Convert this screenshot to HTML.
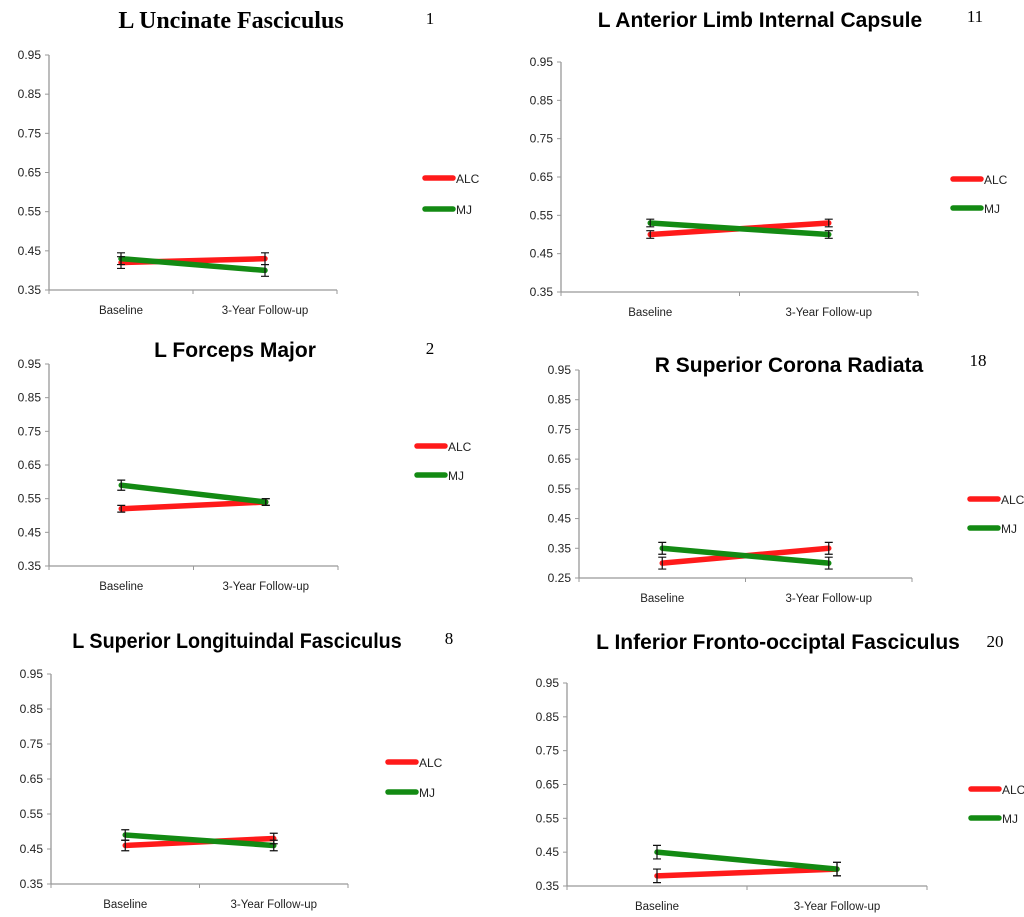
<!DOCTYPE html>
<html><head><meta charset="utf-8">
<style>
html,body{margin:0;padding:0;background:#fff;width:1024px;height:917px;overflow:hidden}
svg{display:block}
text{font-family:"Liberation Sans",sans-serif}
</style></head>
<body>
<svg id="chart" width="1024" height="917"></svg>
<script>
const categories = ["Baseline", "3-Year Follow-up"];
const titles = ["L Uncinate Fasciculus","L Anterior Limb Internal Capsule","L Forceps Major","R Superior Corona Radiata","L Superior Longituindal Fasciculus","L Inferior Fronto-occiptal Fasciculus"];
const panelNumbers = ["1","11","2","18","8","20"];
const alcValues = [[0.42,0.43],[0.50,0.53],[0.52,0.54],[0.30,0.35],[0.46,0.48],[0.38,0.40]];
const mjValues = [[0.43,0.40],[0.53,0.50],[0.59,0.54],[0.35,0.30],[0.49,0.46],[0.45,0.40]];
const alcErr = [[0.015,0.015],[0.01,0.01],[0.01,0.01],[0.02,0.02],[0.015,0.015],[0.02,0.02]];
const mjErr = [[0.015,0.015],[0.01,0.01],[0.015,0.01],[0.02,0.02],[0.015,0.015],[0.02,0.02]];
const yMins = [0.35,0.35,0.35,0.25,0.35,0.35];
const yMax = 0.95;
const yStep = 0.1;

const layout = [
 {ax:49,ax1:337,yt:55,yb:290,tx:231,ty:28,fs:24,serif:true,nx:430,ny:24,lx:423,ly:[178,209]},
 {ax:561,ax1:918,yt:62,yb:292,tx:760,ty:27,fs:21,serif:false,nx:975,ny:22,lx:951,ly:[179,208]},
 {ax:49,ax1:338,yt:364,yb:566,tx:235,ty:357,fs:21,serif:false,nx:430,ny:354,lx:415,ly:[446,475]},
 {ax:579,ax1:912,yt:370,yb:578,tx:789,ty:372,fs:21,serif:false,nx:978,ny:366,lx:968,ly:[499,528]},
 {ax:51,ax1:348,yt:674,yb:884,tx:237,ty:648,fs:21,serif:false,nx:449,ny:644,lx:386,ly:[762,792],sx:0.94},
 {ax:567,ax1:927,yt:683,yb:886,tx:778,ty:649,fs:21,serif:false,nx:995,ny:647,lx:969,ly:[789,818]}
];
const NS="http://www.w3.org/2000/svg";
const svg=document.getElementById('chart');
function mk(tag,attrs,parent){const e=document.createElementNS(NS,tag);for(const k in attrs)e.setAttribute(k,attrs[k]);(parent||svg).appendChild(e);return e;}

titles.forEach((title,i)=>{
  const L=layout[i];
  const g=mk('g',{});
  
  
  const ymin=yMins[i];
  const y=v=>L.yb-(v-ymin)/(yMax-ymin)*(L.yb-L.yt);
  const w=L.ax1-L.ax;
  const x=j=>L.ax+w*(j*2+1)/(categories.length*2);
  const t=mk('text',{x:L.tx,y:L.ty,'text-anchor':'middle','font-size':L.fs,'font-weight':'bold'},g);
  if(L.serif)t.setAttribute('style','font-family:"Liberation Serif",serif');
  if(L.sx)t.setAttribute('transform',`translate(${L.tx} 0) scale(${L.sx} 1) translate(${-L.tx} 0)`);
  t.textContent=title;
  
  
  const n=mk('text',{x:L.nx,y:L.ny,'text-anchor':'middle','font-size':17,style:'font-family:"Liberation Serif",serif'},g);
  n.textContent=panelNumbers[i];
  
  
  const ya=mk('line',{x1:L.ax,y1:L.yt,x2:L.ax,y2:L.yb,stroke:'#999','stroke-width':1.3},g);
  
  
  const xa=mk('line',{x1:L.ax,y1:L.yb,x2:L.ax1,y2:L.yb,stroke:'#999','stroke-width':1.3},g);
  
  
  for(let v=ymin;v<=yMax+1e-9;v+=yStep){
    mk('line',{x1:L.ax-4,y1:y(v),x2:L.ax,y2:y(v),stroke:'#999'},g);
    const tl=mk('text',{x:L.ax-8,y:y(v)+4,'text-anchor':'end','font-size':12,fill:'#222'},g);
    tl.textContent=v.toFixed(2);
    
    
  }
  for(let j=0;j<=categories.length;j++){
    const xx=L.ax+w*j/categories.length;
    mk('line',{x1:xx,y1:L.yb,x2:xx,y2:L.yb+4,stroke:'#999'},g);
  }
  categories.forEach((c,j)=>{
    const cl=mk('text',{x:x(j),y:L.yb+24,'text-anchor':'middle','font-size':11.5,fill:'#222'},g);
    cl.textContent=c;
    
    
  });
  const series=[{name:'ALC',v:alcValues[i],e:alcErr[i],c:'#ff1a1a'},{name:'MJ',v:mjValues[i],e:mjErr[i],c:'#138a13'}];
  series.forEach(s=>{
    const ln=mk('line',{x1:x(0),y1:y(s.v[0]),x2:x(1),y2:y(s.v[1]),stroke:s.c,'stroke-width':5.5,'stroke-linecap':'round'},g);
    
    
  });
  series.forEach(s=>{
    s.v.forEach((v,j)=>{
      const eb=mk('path',{d:`M${x(j)-4},${y(v+s.e[j])}H${x(j)+4}M${x(j)},${y(v+s.e[j])}V${y(v-s.e[j])}M${x(j)-4},${y(v-s.e[j])}H${x(j)+4}`,stroke:'#111','stroke-width':1.2,fill:'none'},g);
      
      
    });
  });
  series.forEach((s,si)=>{
    const lg=mk('g',{},g);
    
    
    mk('line',{x1:L.lx+2,y1:L.ly[si],x2:L.lx+30,y2:L.ly[si],stroke:s.c,'stroke-width':5.5,'stroke-linecap':'round'},lg);
    const lt=mk('text',{x:L.lx+33,y:L.ly[si]+5,'font-size':12,fill:'#222'},lg);
    lt.textContent=s.name;
  });
});
</script>
</body></html>
